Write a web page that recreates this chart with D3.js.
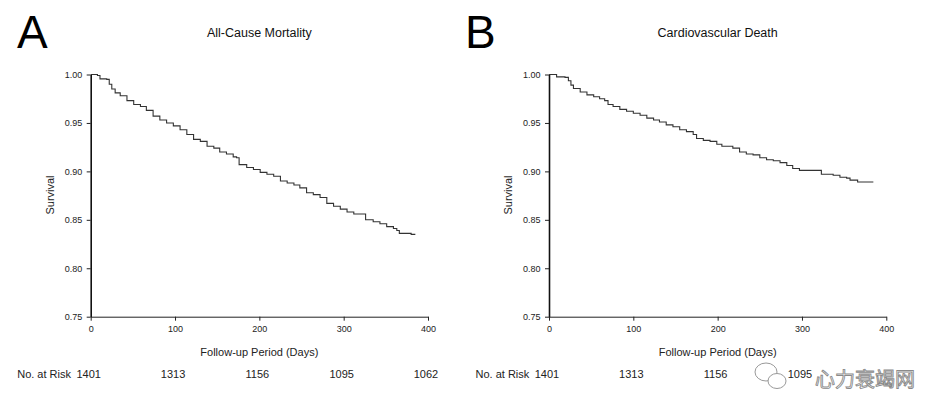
<!DOCTYPE html>
<html><head><meta charset="utf-8">
<script src="https://cdn.jsdelivr.net/npm/d3@7"></script>
<style>
body{margin:0;background:#fff}
svg{display:block;font-family:"Liberation Sans",Arial,Helvetica,sans-serif}
</style>
</head><body>
<svg id="c" width="929" height="418"></svg>
<script>
// ---------- data ----------
const panelLetters = ["A", "B"];
const panelTitles = ["All-Cause Mortality", "Cardiovascular Death"];
const xTicks = [0, 100, 200, 300, 400];
const yTicks = [0.75, 0.80, 0.85, 0.90, 0.95, 1.00];
const riskLabel = "No. at Risk";
const riskDays = [0, 100, 200, 300, 400];
const riskA = [1401, 1313, 1156, 1095, 1062];
const riskB = [1401, 1313, 1156, 1095];
const xAxisTitle = "Follow-up Period (Days)";
const yAxisTitle = "Survival";

const daysA = [0,8,11,19,22,25,29,35,43,51,59,66,74,82,90,98,106,114,122,130,138,146,153,161,169,173,176,185,193,201,209,217,225,233,241,248,256,264,272,280,288,296,304,312,326,335,343,351,359,363,366,380,385];
const survA = [1.000,0.999,0.9955,0.995,0.990,0.985,0.981,0.978,0.973,0.969,0.967,0.963,0.957,0.953,0.950,0.947,0.943,0.938,0.933,0.931,0.926,0.924,0.920,0.918,0.915,0.914,0.907,0.904,0.902,0.899,0.897,0.895,0.890,0.888,0.886,0.883,0.878,0.876,0.873,0.867,0.864,0.861,0.858,0.856,0.850,0.848,0.846,0.843,0.841,0.839,0.836,0.835,0.835];

const daysB = [0,9,19,23,26,29,37,45,53,60,66,70,76,84,92,100,108,116,124,131,139,147,155,163,171,175,183,191,199,205,218,226,234,242,250,258,266,274,282,289,297,323,337,345,353,357,366,384];
const survB = [1.000,0.9976,0.997,0.9935,0.989,0.9856,0.982,0.979,0.977,0.975,0.973,0.969,0.967,0.964,0.962,0.960,0.958,0.955,0.953,0.951,0.948,0.946,0.943,0.941,0.938,0.934,0.932,0.931,0.928,0.926,0.924,0.920,0.918,0.917,0.914,0.912,0.911,0.909,0.906,0.903,0.901,0.897,0.896,0.894,0.893,0.891,0.889,0.8885];

const watermarkText = "心力衰竭网";

// ---------- layout ----------
const svg = d3.select("#c");
const panelLeft = [90.7, 549];
const plotW = 337.3;
const yTop = 74.5, yBottom = 316.7;
const panels = [
  {letter: panelLetters[0], title: panelTitles[0], days: daysA, surv: survA, risk: riskA, letterX: 17},
  {letter: panelLetters[1], title: panelTitles[1], days: daysB, surv: survB, risk: riskB, letterX: 465}
];

const y = d3.scaleLinear().domain([0.75, 1.00]).range([yBottom, yTop]);

// ---------- watermark (drawn first, behind the texts) ----------
const wm = svg.append("g");
wm.append("ellipse").attr("cx", 766).attr("cy", 372).attr("rx", 11).attr("ry", 9)
  .attr("fill", "#fff").attr("stroke", "#999").attr("stroke-width", 1);
wm.append("ellipse").attr("cx", 777).attr("cy", 381).attr("rx", 9).attr("ry", 7.5)
  .attr("fill", "#fff").attr("stroke", "#999").attr("stroke-width", 1);
wm.append("text").attr("x", 815).attr("y", 387)
  .attr("font-family", "'Noto Sans CJK SC', sans-serif").attr("font-size", 20)
  .attr("fill", "#fff").attr("stroke", "#8a8a8a").attr("stroke-width", 0.9)
  .text(watermarkText);

panels.forEach((p, i) => {
  const x0 = panelLeft[i];
  const x = d3.scaleLinear().domain([0, 400]).range([x0, x0 + plotW]);

  svg.append("text").attr("x", p.letterX).attr("y", 48)
    .attr("font-size", 46).attr("fill", "#000").text(p.letter);

  svg.append("text").attr("x", x(200)).attr("y", 37)
    .attr("text-anchor", "middle").attr("font-size", 12.5).attr("fill", "#111").text(p.title);

  const ya = svg.append("g").attr("transform", `translate(${x0},0)`)
    .call(d3.axisLeft(y).tickValues(yTicks).tickFormat(d3.format(".2f")).tickSize(4).tickSizeOuter(0).tickPadding(4.5));
  const xa = svg.append("g").attr("transform", `translate(0,${yBottom})`)
    .call(d3.axisBottom(x).tickValues(xTicks).tickFormat(d3.format("d")).tickSize(4).tickSizeOuter(0).tickPadding(5));
  [ya, xa].forEach(g => {
    g.attr("font-family", null).attr("font-size", null);
    g.selectAll("text").attr("font-size", 9).attr("fill", "#222");
    g.selectAll("line").attr("stroke", "#222").attr("stroke-width", 1);
  });
  ya.select(".domain").attr("stroke", "#111").attr("stroke-width", 1.6);
  xa.select(".domain").attr("stroke", "#222").attr("stroke-width", 1);

  svg.append("text").attr("transform", `translate(${x0 - 37},195) rotate(-90)`)
    .attr("text-anchor", "middle").attr("font-size", 11).attr("fill", "#222").text(yAxisTitle);

  svg.append("text").attr("x", x(200)).attr("y", 356)
    .attr("text-anchor", "middle").attr("font-size", 11).attr("fill", "#222").text(xAxisTitle);

  const pts = p.days.map((d, k) => [d, p.surv[k]]);
  svg.append("path").datum(pts)
    .attr("fill", "none").attr("stroke", "#333").attr("stroke-width", 1.1)
    .attr("d", d3.line().x(d => x(d[0])).y(d => y(d[1])).curve(d3.curveStepAfter));

  svg.append("text").attr("x", x0 - 73.5).attr("y", 378)
    .attr("font-size", 11).attr("fill", "#222").text(riskLabel);
  p.risk.forEach((r, k) => {
    svg.append("text").attr("x", x(riskDays[k]) - 2).attr("y", 378)
      .attr("text-anchor", "middle").attr("font-size", 11).attr("fill", "#222").text(r);
  });
});
</script>
</body></html>
